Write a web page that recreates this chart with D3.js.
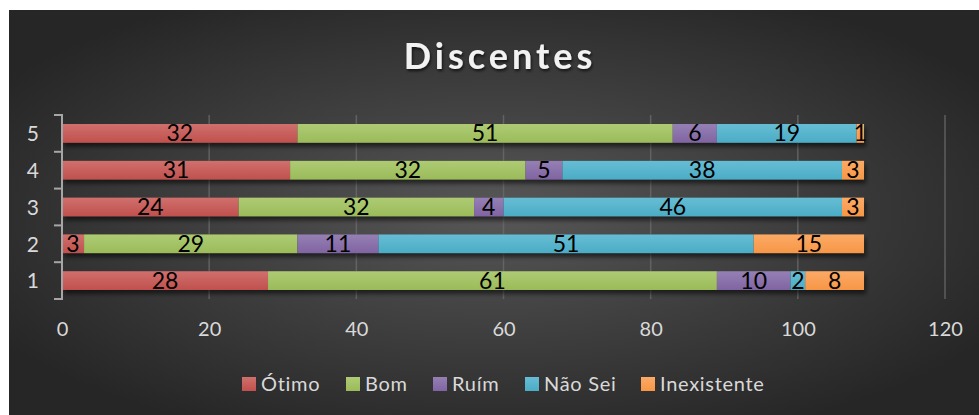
<!DOCTYPE html>
<html><head><meta charset="utf-8">
<script src="https://cdn.jsdelivr.net/npm/d3@7/dist/d3.min.js"></script>
<style>html,body{margin:0;padding:0;background:#fff;}svg{display:block;}</style>
</head><body>
<script>
const categories = ["1","2","3","4","5"];
const seriesNames = ["Ótimo","Bom","Ruím","Não Sei","Inexistente"];
const otimo = [28,3,24,31,32];
const bom = [61,29,32,32,51];
const ruim = [10,11,4,5,6];
const naoSei = [2,51,46,38,19];
const inexistente = [8,15,3,3,1];
const xTicks = [0,20,40,60,80,100,120];
const colors = ["#C0504D","#9BBB59","#8064A2","#4BACC6","#F79646"];
const colorsLight = ["#D0706D","#AECB74","#9580B4","#66BDD4","#FBAA66"];

const W=979,H=415;
const FONT="Lato, 'Open Sans', sans-serif";
const svg=d3.select("body").append("svg").attr("width",W).attr("height",H);
const defs=svg.append("defs");
const rg=defs.append("radialGradient").attr("id","bg").attr("cx","50%").attr("cy","50%").attr("r","60%");
rg.append("stop").attr("offset","0%").attr("stop-color","#575757");
rg.append("stop").attr("offset","100%").attr("stop-color","#262626");
colors.forEach((c,i)=>{
  const g=defs.append("linearGradient").attr("id","g"+i).attr("x1",0).attr("y1",0).attr("x2",0).attr("y2",1);
  g.append("stop").attr("offset","0%").attr("stop-color",colorsLight[i]);
  g.append("stop").attr("offset","100%").attr("stop-color",c);
});
const f=defs.append("filter").attr("id","sh").attr("x","-5%").attr("y","-30%").attr("width","115%").attr("height","190%");
f.append("feDropShadow").attr("dx",2).attr("dy",4).attr("stdDeviation",2).attr("flood-color","#000").attr("flood-opacity",0.55);
const tf=defs.append("filter").attr("id","tsh").attr("x","-10%").attr("y","-30%").attr("width","120%").attr("height","170%");
tf.append("feDropShadow").attr("dx",1).attr("dy",2).attr("stdDeviation",1.5).attr("flood-color","#000").attr("flood-opacity",0.7);

svg.append("rect").attr("x",9).attr("y",10).attr("width",W-9).attr("height",H-10).attr("fill","url(#bg)");

const x=d3.scaleLinear().domain([0,120]).range([62,945]);
const y=d3.scaleBand().domain(categories.slice().reverse()).range([115,299]).paddingInner(0.49).paddingOuter(0.245);

// gridlines
svg.append("g").selectAll("line").data(xTicks.slice(1)).join("line")
  .attr("x1",d=>x(d)).attr("x2",d=>x(d)).attr("y1",115).attr("y2",299)
  .attr("stroke","#6a6a6a").attr("stroke-width",1.5).attr("opacity",0.8);

// stacked data
const rows=categories.map((c,i)=>({cat:c,"Ótimo":otimo[i],"Bom":bom[i],"Ruím":ruim[i],"Não Sei":naoSei[i],"Inexistente":inexistente[i]}));
const stack=d3.stack().keys(seriesNames)(rows);

const barG=svg.append("g");
barG.append("g").attr("filter","url(#sh)").selectAll("rect").data(rows).join("rect")
  .attr("x",x(0)).attr("y",d=>y(d.cat)).attr("height",y.bandwidth())
  .attr("width",d=>x(seriesNames.reduce((s,k)=>s+d[k],0))-x(0)).attr("fill","#333");

stack.forEach((s,i)=>{
  barG.append("g").selectAll("rect").data(s).join("rect")
    .attr("x",d=>x(d[0])).attr("y",d=>y(d.data.cat)).attr("height",y.bandwidth())
    .attr("width",d=>x(d[1])-x(d[0])).attr("fill","url(#g"+i+")");
});
stack.forEach((s,i)=>{
  barG.append("g").selectAll("text").data(s).join("text")
    .attr("x",d=>(x(d[0])+x(d[1]))/2).attr("y",d=>y(d.data.cat)+y.bandwidth()/2+8)
    .attr("text-anchor","middle").attr("font-family",FONT).attr("font-size",23)
    .attr("fill","#000").text(d=>d[1]-d[0]);
});

// y axis
const yAxis=d3.axisLeft(y).tickSize(0).tickPadding(23);
const ya=svg.append("g").attr("transform","translate(62,1)").call(yAxis);
ya.select(".domain").remove();
ya.selectAll("text").attr("font-family",FONT).attr("font-size",21).attr("fill","#d9d9d9");
svg.append("line").attr("x1",62).attr("x2",62).attr("y1",115).attr("y2",300).attr("stroke","#a6a6a6").attr("stroke-width",2);
svg.append("g").selectAll("line").data(d3.range(6).map(i=>115+i*(299-115)/5)).join("line")
  .attr("x1",54).attr("x2",63).attr("y1",d=>d).attr("y2",d=>d).attr("stroke","#a6a6a6").attr("stroke-width",2);

// x axis labels
const xAxis=d3.axisBottom(x).tickValues(xTicks).tickSize(0).tickPadding(0);
const xa=svg.append("g").attr("transform","translate(0,322)").call(xAxis);
xa.select(".domain").remove();
xa.selectAll("text").attr("font-family",FONT).attr("font-size",20).attr("fill","#d9d9d9");

// title
svg.append("text").attr("x",500).attr("y",69).attr("text-anchor","middle")
  .attr("font-family",FONT).attr("font-weight","bold").attr("font-size",36)
  .attr("letter-spacing",4).attr("fill","#f2f2f2").attr("filter","url(#tsh)").text("Discentes");

// legend
const legX=[242,346,433,525,641];
const lg=svg.append("g");
seriesNames.forEach((n,i)=>{
  lg.append("rect").attr("x",legX[i]).attr("y",377).attr("width",14).attr("height",14).attr("fill","url(#g"+i+")");
  lg.append("text").attr("x",legX[i]+19).attr("y",391).attr("font-family",FONT)
    .attr("font-size",20).attr("letter-spacing",0.7).attr("fill","#d9d9d9").text(n);
});
</script>
</body></html>
